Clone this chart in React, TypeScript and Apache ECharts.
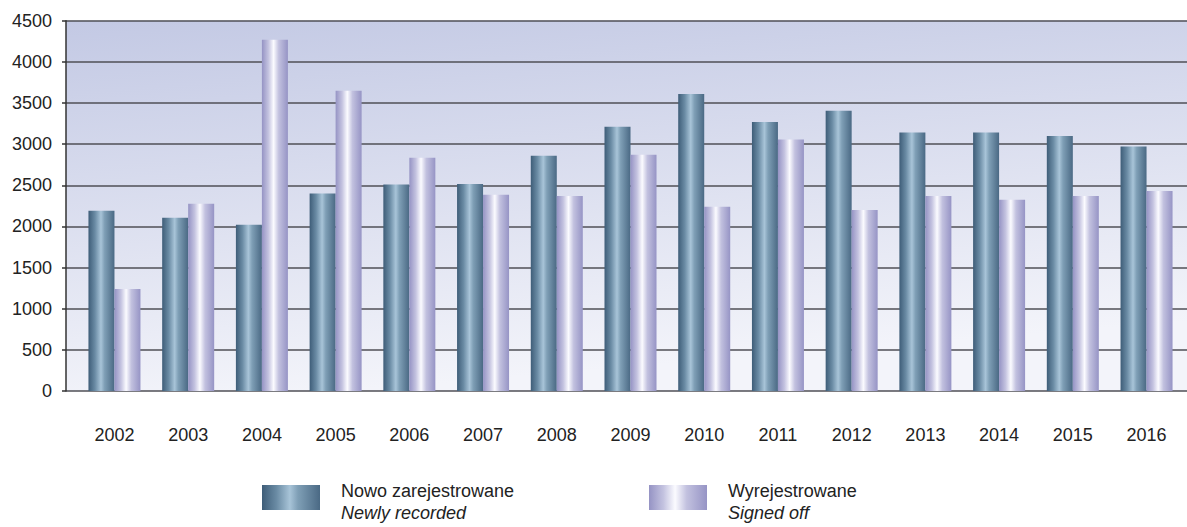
import React, { useEffect, useRef } from "react";
import * as echarts from "echarts";

const years = ["2002", "2003", "2004", "2005", "2006", "2007", "2008", "2009", "2010", "2011", "2012", "2013", "2014", "2015", "2016"];
const newlyRecorded = [2190, 2105, 2020, 2400, 2510, 2515, 2860, 3210, 3610, 3270, 3405, 3140, 3140, 3100, 2970];
const signedOff = [1240, 2275, 4270, 3650, 2835, 2385, 2370, 2870, 2240, 3055, 2200, 2370, 2325, 2370, 2430];
const yTicks = { min: 0, max: 4500, interval: 500 };
const seriesNames = ["Nowo zarejestrowane", "Wyrejestrowane"];
const seriesSubtitles = ["Newly recorded", "Signed off"];

const FONT = "'Liberation Sans', Arial, Helvetica, sans-serif";

const darkGrad = () =>
  new echarts.graphic.LinearGradient(0, 0, 1, 0, [
    { offset: 0, color: "#3e5d78" },
    { offset: 0.25, color: "#6a8ba4" },
    { offset: 0.48, color: "#a8c4d8" },
    { offset: 0.62, color: "#7f9fb6" },
    { offset: 1, color: "#4a6984" },
  ]);

const lightGrad = () =>
  new echarts.graphic.LinearGradient(0, 0, 1, 0, [
    { offset: 0, color: "#9593c4" },
    { offset: 0.25, color: "#c4c3e0" },
    { offset: 0.45, color: "#fbfbff" },
    { offset: 0.65, color: "#c2c1df" },
    { offset: 1, color: "#9694c5" },
  ]);

export default function App() {
  const ref = useRef<HTMLDivElement>(null);

  useEffect(() => {
    if (!ref.current) return;
    const chart = echarts.init(ref.current, null, { renderer: "svg" });

    const legendCommon = (i: number, left: number) => ({
      show: true,
      left,
      top: 482,
      padding: 0,
      orient: "horizontal",
      itemWidth: 58,
      itemHeight: 25,
      icon: "rect",
      selectedMode: false,
      data: [seriesNames[i]],
      formatter: (name: string) => `{a|${name}}\n{b|${seriesSubtitles[i]}}`,
      textStyle: {
        padding: [9, 0, 0, 16],
        rich: {
          a: { fontFamily: FONT, fontSize: 18, color: "#222", lineHeight: 22 },
          b: { fontFamily: FONT, fontSize: 18, color: "#222", lineHeight: 22, fontStyle: "italic" },
        },
      },
    });

    chart.setOption({
      animation: false,
      backgroundColor: "#ffffff",
      grid: [
        {
          left: 66,
          right: 0,
          top: 20.7,
          bottom: 136,
          show: true,
          borderWidth: 0,
          backgroundColor: new echarts.graphic.LinearGradient(0, 0, 0.25, 1, [
            { offset: 0, color: "#c3c9e4" },
            { offset: 1, color: "#f3f4fa" },
          ]),
        },
        {
          left: 77.6,
          right: 3.6,
          top: 20.7,
          bottom: 136,
        },
      ],
      legend: [legendCommon(0, 262), legendCommon(1, 649)],
      xAxis: [
        { gridIndex: 0, type: "value", show: false, min: 0, max: 1 },
        {
          gridIndex: 1,
          type: "category",
          data: years,
          axisLine: { show: false },
          axisTick: { show: false },
          axisLabel: { margin: 35, fontFamily: FONT, fontSize: 18, color: "#222" },
        },
      ],
      yAxis: [
        {
          gridIndex: 0,
          type: "value",
          min: yTicks.min,
          max: yTicks.max,
          interval: yTicks.interval,
          axisLine: { show: true, lineStyle: { color: "#333", width: 1.5 } },
          axisTick: { show: true, length: 4, lineStyle: { color: "#333", width: 1.5 } },
          axisLabel: {
            margin: 14,
            fontFamily: FONT,
            fontSize: 18,
            color: "#222",
            formatter: (v: number) => String(v),
          },
          splitLine: { show: true, lineStyle: { color: "#4f4f56", width: 1.6 } },
        },
        {
          gridIndex: 1,
          type: "value",
          min: yTicks.min,
          max: yTicks.max,
          interval: yTicks.interval,
          show: false,
          splitLine: { show: false },
        },
      ],
      series: [
        {
          name: seriesNames[0],
          type: "bar",
          xAxisIndex: 1,
          yAxisIndex: 1,
          data: newlyRecorded,
          barWidth: 26,
          barGap: "0%",
          itemStyle: { color: darkGrad() },
        },
        {
          name: seriesNames[1],
          type: "bar",
          xAxisIndex: 1,
          yAxisIndex: 1,
          data: signedOff,
          barWidth: 26,
          barGap: "0%",
          itemStyle: { color: lightGrad() },
        },
      ],
    });

    return () => chart.dispose();
  }, []);

  return (
    <div
      ref={ref}
      style={{ position: "absolute", left: 0, top: 0, width: 1187, height: 527 }}
    />
  );
}
